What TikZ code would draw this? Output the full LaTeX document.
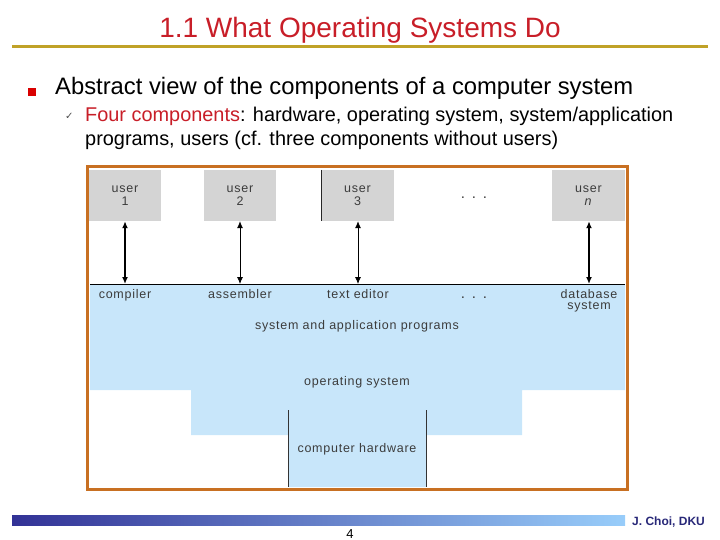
\documentclass[tikz,border=0pt]{standalone}
\usepackage{fontspec}
\setmainfont{Liberation Sans}
\newfontfamily\figfont[LetterSpace=6]{Liberation Sans}
\newfontfamily\symfont{DejaVu Sans}
\usetikzlibrary{arrows.meta,positioning,calc}
\definecolor{titlered}{RGB}{200,30,40}
\definecolor{rulegold}{RGB}{192,162,40}
\definecolor{frameorange}{RGB}{200,112,34}
\definecolor{layerblue}{RGB}{200,230,250}
\definecolor{usergray}{RGB}{212,212,212}
\definecolor{figtext}{RGB}{60,60,60}
\definecolor{barleft}{RGB}{50,50,150}
\definecolor{barright}{RGB}{152,205,250}
\definecolor{navy}{RGB}{40,40,120}

\begin{document}
\begin{tikzpicture}[x=1pt, y=-1pt, >=Latex]
  \tikzstyle{user}=[fill=usergray, minimum width=72pt, minimum height=51pt, inner sep=0pt]
  \tikzstyle{lbl}=[font=\figfont\fontsize{12.5}{13}\selectfont, text=figtext, align=center, inner sep=0pt]
  \tikzstyle{prog}=[lbl, anchor=base]
  \tikzstyle{link}=[<->, line width=1.6pt, >={Latex[length=7pt,width=6pt]}]
  \useasboundingbox (0,0) rectangle (720,540);

  % title and rule
  \node[text=titlered, font=\fontsize{28}{30}\selectfont, anchor=base, inner sep=0pt] (title) at (360,38) {1.1 What Operating Systems Do};
  \draw[rulegold, line width=3pt] (12,47) -- (708,47);

  % bullets
  \node[fill=red!85!black, minimum size=8pt, inner sep=0pt] (sq) at (32,92.5) {};
  \node[anchor=base west, inner sep=0pt, font=\fontsize{23.8}{26}\selectfont] (abs) at (55,95) {Abstract view of the components of a computer system};
  \node[anchor=base west, inner sep=0pt, font=\symfont\fontsize{10}{12}\selectfont, text=black!70] (tick) at (65,120) {✓};
  \node[anchor=base west, inner sep=0pt, font=\fontsize{19.9}{24}\selectfont] (four) at (85,122)
    {\textcolor{titlered}{Four components}: hardware, operating system, system/application};
  \node[anchor=base west, inner sep=0pt, font=\fontsize{19.9}{24}\selectfont] (four2) at (85,146)
    {programs, users (cf. three components without users)};

  % layers
  \fill[layerblue] (90,284) -- (625,284) -- (625,390) -- (522,390) -- (522,435) -- (426,435)
    -- (426,487) -- (288,487) -- (288,435) -- (191,435) -- (191,390) -- (90,390) -- cycle;
  \draw[black!80, line width=0.6pt] (288,410) -- (288,487);
  \draw[black!80, line width=0.6pt] (426,410) -- (426,487);

  % users
  \node[user] (u1) at (125,195.5) {};
  \node[user] (u2) at (240,195.5) {};
  \node[user, minimum width=73pt] (u3) at (357.5,195.5) {};
  \node[user, minimum width=73pt] (un) at (588.5,195.5) {};
  \draw[black!85, line width=0.6pt] (u3.north west) -- (u3.south west);
  \node[lbl] at (u1) {user\\1};
  \node[lbl] at (u2) {user\\2};
  \node[lbl] at (u3) {user\\3};
  \node[lbl] at (un) {user\\\textit{n}};
  \node[prog, font=\figfont\fontsize{15}{15}\selectfont] (udots) at (474,199) {. . .};

  % programs line
  \coordinate (lineL) at (90,284);
  \coordinate (lineR) at (625,284);
  \draw[black, line width=1pt] (lineL) -- (lineR);
  \coordinate (p1) at (125,284);
  \coordinate (p2) at (240,284);
  \coordinate (p3) at (358,284);
  \coordinate (pn) at (589,284);
  \draw[link] (u1.south -| p1) -- (p1);
  \draw[link, line width=0.8pt] (u2.south -| p2) -- (p2);
  \draw[link, line width=0.8pt] (u3.south -| p3) -- (p3);
  \draw[link] (un.south -| pn) -- (pn);

  \node[prog] (comp) at (125,298) {compiler};
  \node[prog] (asm) at (240,298) {assembler};
  \node[prog] (edit) at (358,298) {text editor};
  \node[prog, font=\figfont\fontsize{15}{15}\selectfont] (pdots) at (474,298) {. . .};
  \node[prog] (db) at (589,298) {database};
  \node[prog] (db2) at (589,309.5) {system};
  \node[lbl] (sap) at (357,326) {system and application programs};
  \node[lbl] (os) at (357,382) {operating system};
  \node[lbl] (hw) at (357,449) {computer hardware};

  % frame
  \draw[frameorange, line width=3pt] (87,167) rectangle (627,489);

  % footer
  \shade[left color=barleft, right color=barright] (12,515) rectangle (625,525);
  \node[anchor=base west, inner sep=0pt, font=\bfseries\fontsize{12}{12}\selectfont, text=navy] (auth) at (632,525) {J. Choi, DKU};
  \node[anchor=base, inner sep=0pt, font=\fontsize{13}{13}\selectfont] (page) at (350,538) {4};
\end{tikzpicture}
\end{document}
